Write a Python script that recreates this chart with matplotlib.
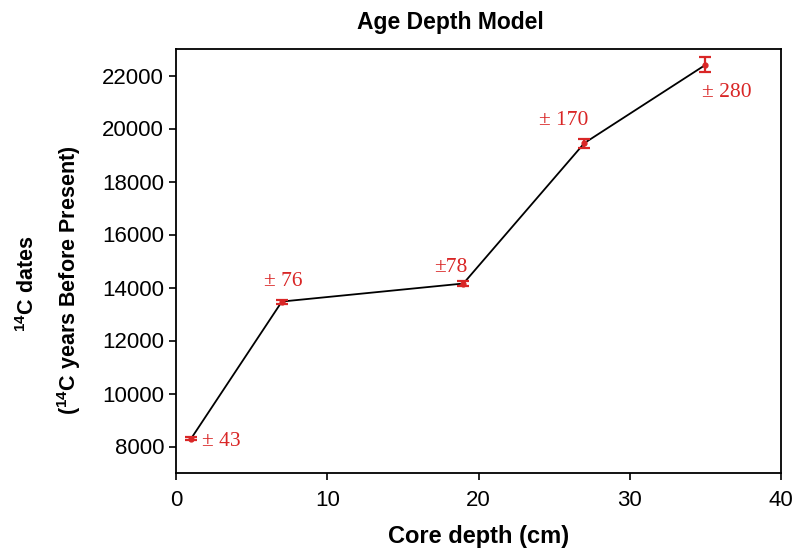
import matplotlib
matplotlib.use("Agg")
import matplotlib.pyplot as plt

# Radiocarbon dates along the core
depth = [1, 7, 19, 27, 35]
age = [8300, 13470, 14150, 19450, 22400]
err = [43, 76, 78, 170, 280]
err_labels = ["\u00b1 43", "\u00b1 76", "\u00b178", "\u00b1 170", "\u00b1 280"]
# label offsets from each point (depth units, years), text baseline
lab_dx = [2.0, 0.1, -0.85, -1.4, 1.45]
lab_dy = [-300, 570, 450, 680, -1210]

plt.rcParams['font.family'] = 'Liberation Sans'
plt.rcParams['mathtext.fontset'] = 'custom'
plt.rcParams['mathtext.rm'] = 'Liberation Sans:bold'
plt.rcParams['mathtext.bf'] = 'Liberation Sans:bold'

red = '#d92626'
fig = plt.figure(figsize=(7.96, 5.53), dpi=100)
ax = fig.add_axes([176/796, 1 - 473/553, 605/796, 424/553])

ax.plot(depth, age, color='black', lw=1.3, zorder=2)
ax.errorbar(depth, age, yerr=err, fmt='o', ms=3.5, color=red, ecolor=red,
            elinewidth=1.6, capsize=4, capthick=1.6, zorder=3)

for x, y, t, dx, dy in zip(depth, age, err_labels, lab_dx, lab_dy):
    ax.text(x + dx, y + dy, t, color=red, fontsize=15.5, ha='center', va='baseline',
            family='Liberation Serif')

ax.set_xlim(0, 40)
ax.set_ylim(7000, 23000)
ax.set_xticks(range(0, 41, 10))
ax.set_yticks(range(8000, 22001, 2000))
ax.tick_params(direction='out', length=5, width=1.2, labelsize=16, top=False, right=False)
ax.tick_params(axis='x', pad=7)
for s in ax.spines.values():
    s.set_linewidth(1.3)

ax.set_xlabel("Core depth (cm)", fontsize=17, fontweight='bold')
ax.xaxis.set_label_coords(0.5, -(537 - 473) / 424, transform=ax.transAxes)
ax.xaxis.label.set_va('center')
fig.text(28/796, 1 - 284/553, r"$^{14}$C dates", rotation=90, fontsize=15.5,
         fontweight='bold', ha='center', va='center')
fig.text(69/796, 1 - 280/553, r"($^{14}$C years Before Present)", rotation=90,
         fontsize=15.5, fontweight='bold', ha='center', va='center')
fig.text(450/796, 1 - 22/553, "Age Depth Model", fontsize=16.5, fontweight='bold',
         ha='center', va='center')

fig.savefig("out.png", dpi=100)
